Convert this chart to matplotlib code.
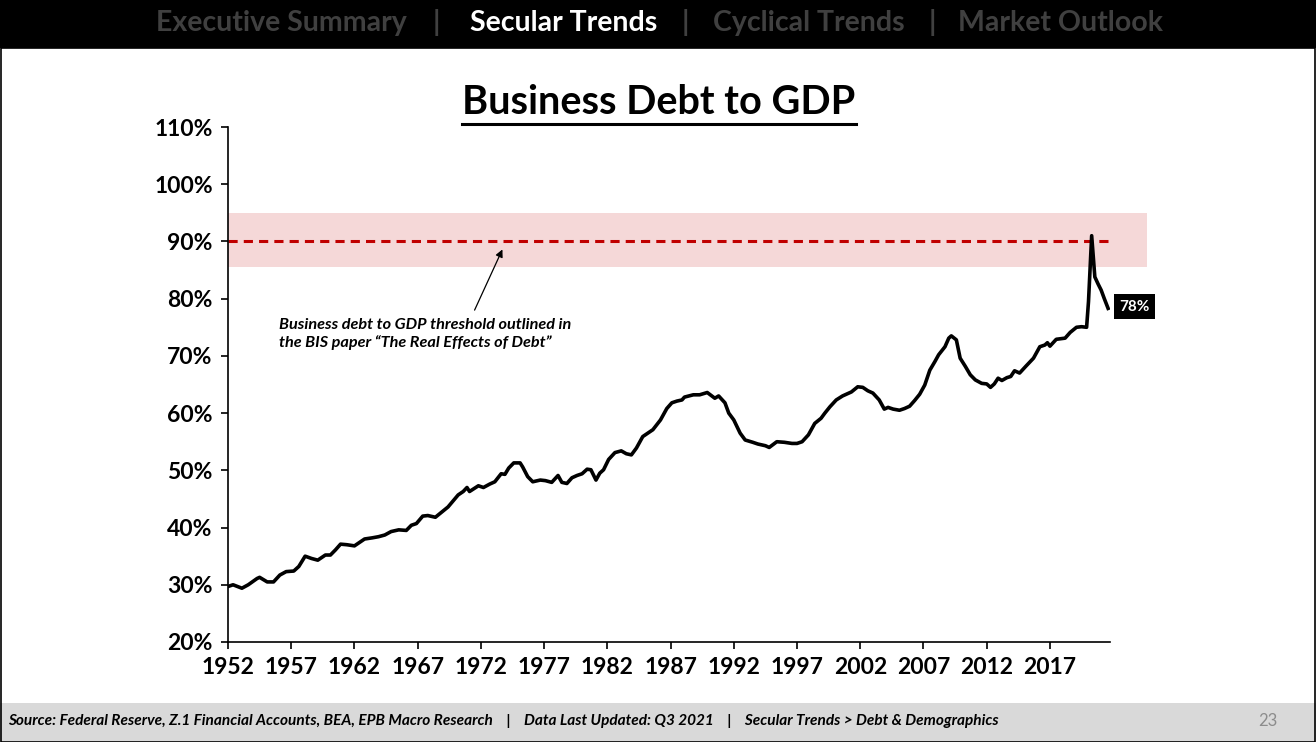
import matplotlib
matplotlib.use('Agg')
import matplotlib.pyplot as plt
from matplotlib.patches import Rectangle
from matplotlib.lines import Line2D
from matplotlib.ticker import FuncFormatter

plt.rcParams['font.family'] = ['Lato', 'DejaVu Sans']

# Business debt to GDP (%)
years = [1952.0, 1952.4, 1953.1, 1953.6, 1954.3, 1954.5, 1955.1, 1955.6, 1956.1, 1956.6,
         1957.2, 1957.6, 1958.1, 1958.6, 1959.1, 1959.7, 1960.1, 1960.5, 1960.9, 1961.4,
         1962.0, 1962.8, 1963.4, 1963.9, 1964.4, 1964.9, 1965.5, 1966.1, 1966.5, 1966.9,
         1967.4, 1967.8, 1968.4, 1968.9, 1969.4, 1970.2, 1970.6, 1970.9, 1971.1, 1971.8,
         1972.2, 1972.7, 1973.1, 1973.6, 1973.9, 1974.2, 1974.6, 1975.1, 1975.3, 1975.7,
         1976.1, 1976.7, 1977.1, 1977.6, 1978.1, 1978.4, 1978.8, 1979.2, 1979.6, 1980.0,
         1980.4, 1980.7, 1981.1, 1981.4, 1981.7, 1982.1, 1982.6, 1983.1, 1983.5, 1983.9,
         1984.3, 1984.8, 1985.4, 1985.6, 1986.2, 1986.7, 1987.1, 1987.5, 1987.9, 1988.1,
         1988.8, 1989.3, 1989.9, 1990.5, 1990.8, 1991.3, 1991.6, 1992.0, 1992.5, 1992.9,
         1993.5, 1993.9, 1994.5, 1994.8, 1995.4, 1996.0, 1996.6, 1997.0, 1997.4, 1997.9,
         1998.4, 1998.9, 1999.2, 1999.6, 2000.1, 2000.6, 2001.3, 2001.8, 2002.2, 2002.6,
         2003.0, 2003.5, 2003.9, 2004.2, 2004.6, 2005.1, 2005.5, 2005.9, 2006.3, 2006.7,
         2007.1, 2007.5, 2007.9, 2008.2, 2008.7, 2009.0, 2009.2, 2009.6, 2009.9, 2010.3,
         2010.7, 2011.1, 2011.6, 2012.0, 2012.3, 2012.6, 2012.9, 2013.2, 2013.6, 2013.9,
         2014.2, 2014.6, 2015.1, 2015.7, 2016.2, 2016.6, 2016.8, 2017.0, 2017.5, 2018.2,
         2018.6, 2019.1, 2019.5, 2019.9, 2020.05, 2020.3, 2020.55, 2020.8, 2021.05, 2021.3,
         2021.6]
debt_pct = [29.7, 30.0, 29.4, 30.0, 31.1, 31.3, 30.5, 30.5, 31.7, 32.3,
            32.4, 33.2, 35.0, 34.6, 34.3, 35.2, 35.2, 36.1, 37.1, 37.0,
            36.8, 38.0, 38.2, 38.4, 38.7, 39.3, 39.6, 39.5, 40.4, 40.7,
            42.0, 42.1, 41.8, 42.7, 43.6, 45.7, 46.3, 47.0, 46.3, 47.3,
            47.0, 47.6, 48.0, 49.4, 49.3, 50.4, 51.3, 51.3, 50.6, 48.9,
            48.0, 48.3, 48.2, 47.9, 49.1, 47.9, 47.7, 48.7, 49.1, 49.4,
            50.2, 50.1, 48.3, 49.5, 50.1, 51.9, 53.1, 53.4, 52.9, 52.7,
            53.9, 55.9, 56.8, 57.1, 58.8, 60.8, 61.8, 62.1, 62.3, 62.8,
            63.2, 63.2, 63.6, 62.6, 63.0, 61.8, 60.0, 58.8, 56.5, 55.3,
            54.9, 54.6, 54.3, 54.0, 55.0, 54.9, 54.7, 54.7, 55.0, 56.2,
            58.2, 59.1, 60.0, 61.1, 62.3, 63.0, 63.7, 64.6, 64.5, 63.9,
            63.5, 62.3, 60.7, 61.0, 60.7, 60.5, 60.8, 61.2, 62.2, 63.3,
            64.9, 67.5, 69.0, 70.2, 71.6, 73.1, 73.5, 72.8, 69.6, 68.2,
            66.7, 65.8, 65.2, 65.1, 64.5, 65.1, 66.1, 65.7, 66.2, 66.4,
            67.4, 67.0, 68.2, 69.6, 71.6, 71.9, 72.3, 71.7, 72.9, 73.1,
            74.1, 75.0, 75.1, 75.0, 79.5, 91.0, 83.8, 82.6, 81.5, 80.0,
            78.3]

threshold = 90
band_low, band_high = 85.5, 95
x_ticks = list(range(1952, 2018, 5))
y_ticks = list(range(20, 111, 10))

nav_items = ['Executive Summary', '|', 'Secular Trends', '|', 'Cyclical Trends', '|', 'Market Outlook']
nav_x = [281, 436, 564, 685, 809, 932, 1061]

W, H = 1316, 742
fig = plt.figure(figsize=(W / 100, H / 100), dpi=100)
fig.patch.set_facecolor('white')

# header band
fig.add_artist(Rectangle((0, 1 - 48 / H), 1, 48 / H, transform=fig.transFigure,
                         facecolor='black', edgecolor='none', zorder=0))
for lab, px in zip(nav_items, nav_x):
    col = 'white' if lab == 'Secular Trends' else '#404040'
    fig.text(px / W, 1 - 23 / H, lab, ha='center', va='center', fontsize=20.5,
             fontweight='bold', color=col)

# footer band
fig.add_artist(Rectangle((0, 0), 1, 39 / H, transform=fig.transFigure,
                         facecolor='#d9d9d9', edgecolor='none', zorder=0))
fig.add_artist(Rectangle((0.5 / W, 0.5 / H), 1 - 1.5 / W, 1 - 48 / H, transform=fig.transFigure,
                         facecolor='none', edgecolor='black', linewidth=1.2, zorder=1))
fig.text(8 / W, 21 / H,
         'Source: Federal Reserve, Z.1 Financial Accounts, BEA, EPB Macro Research    |    '
         'Data Last Updated: Q3 2021    |    Secular Trends > Debt & Demographics',
         ha='left', va='center', fontsize=11.1, fontweight='bold', style='italic', color='black')
fig.text(1268 / W, 21 / H, '23', ha='center', va='center', fontsize=12, color='#8c8c8c')

# title, underlined
title = fig.text(659 / W, 1 - 102 / H, 'Business Debt to GDP', ha='center', va='center',
                 fontsize=28.5, fontweight='bold', color='black')

ax = fig.add_axes([228 / W, 1 - 642 / H, (1110 - 228) / W, (642 - 127) / H])
ax.set_xlim(1952, 2021.75)
ax.set_ylim(20, 110)

ax.add_patch(Rectangle((1952, band_low), 2024.7 - 1952, band_high - band_low,
                       facecolor='#f5d8d8', edgecolor='none', clip_on=False, zorder=1))
ax.axhline(threshold, color='#c00000', linestyle=(0, (3, 2)), linewidth=2.2, zorder=2)
ax.plot(years, debt_pct, color='black', linewidth=2.6, zorder=3, solid_joinstyle='round')

ax.set_xticks(x_ticks)
ax.set_yticks(y_ticks)
ax.yaxis.set_major_formatter(FuncFormatter(lambda v, p: f'{v:.0f}%'))
ax.tick_params(axis='both', direction='out', length=5, width=1.2, labelsize=16.5,
               pad=6, colors='black')
for lab in ax.get_xticklabels() + ax.get_yticklabels():
    lab.set_fontweight('bold')
for s in ['top', 'right']:
    ax.spines[s].set_visible(False)
for s in ['left', 'bottom']:
    ax.spines[s].set_linewidth(1.2)

# last value label
ax.text(2023.7, debt_pct[-1] + 0.3, f'{debt_pct[-1]:.0f}%', ha='center', va='center',
        fontsize=11, fontweight='bold', color='white', clip_on=False,
        bbox=dict(boxstyle='square,pad=0.35', facecolor='black', edgecolor='none'))

# threshold note with arrow
ax.text(1956.0, 76.6, 'Business debt to GDP threshold outlined in\nthe BIS paper \u201cThe Real Effects of Debt\u201d',
        ha='left', va='top', fontsize=11.7, fontweight='bold', style='italic', linespacing=1.25)
ax.annotate('', xy=(1973.7, 88.6), xytext=(1971.5, 78.0),
            arrowprops=dict(arrowstyle='-|>', color='black', lw=0.9,
                            shrinkA=0, shrinkB=0, mutation_scale=11))

fig.canvas.draw()
bb = title.get_window_extent()
fig.add_artist(Line2D([bb.x0 / W, bb.x1 / W], [(bb.y0 - 3) / H, (bb.y0 - 3) / H],
                      transform=fig.transFigure, color='black', linewidth=2.2))

fig.savefig('out.png', dpi=100)
